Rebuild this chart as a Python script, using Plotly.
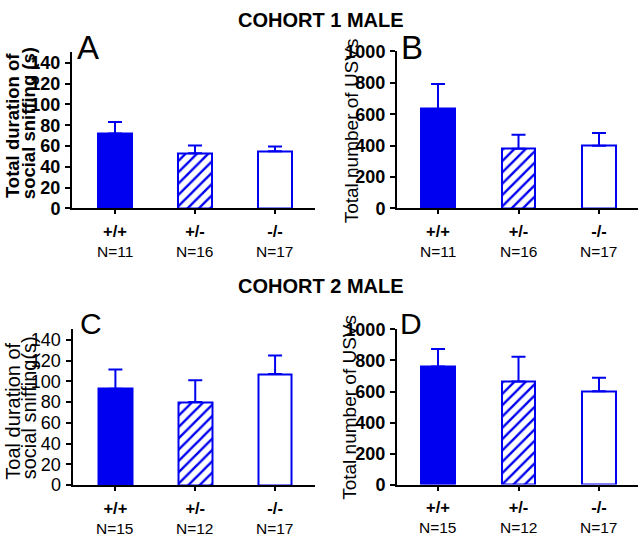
import plotly.graph_objects as go

# ---- data ----
genotypes = ["+/+", "+/-", "-/-"]
n_cohort1 = ["N=11", "N=16", "N=17"]
n_cohort2 = ["N=15", "N=12", "N=17"]

sniff_c1_mean = [72, 53, 55]
sniff_c1_sem = [11, 7.5, 4.5]
usv_c1_mean = [634, 380, 399]
usv_c1_sem = [159, 90, 81]
sniff_c2_mean = [93, 80, 107]
sniff_c2_sem = [18.5, 21, 18]
usv_c2_mean = [762, 665, 602]
usv_c2_sem = [112, 159, 86]

sniff_ticks = [0, 20, 40, 60, 80, 100, 120, 140]
usv_ticks = [0, 200, 400, 600, 800, 1000]

BLUE = "#0000f0"
FONT = "Liberation Sans, Arial, sans-serif"
W, H = 640, 543

fig = go.Figure()

panels = [
    ("", sniff_c1_mean, sniff_c1_sem, n_cohort1, [0, 150], sniff_ticks, (72, 315), (44, 206), True, [-0.5375, 2.5]),
    ("2", usv_c1_mean, usv_c1_sem, n_cohort1, [0, 1000], usv_ticks, (397, 638), (43, 206), True, [-0.509, 2.484]),
    ("3", sniff_c2_mean, sniff_c2_sem, n_cohort2, [0, 150], sniff_ticks, (72.5, 315), (331.7, 493.3), False, [-0.5375, 2.5]),
    ("4", usv_c2_mean, usv_c2_sem, n_cohort2, [0, 1000], usv_ticks, (397, 638), (331.7, 492.7), True, [-0.509, 2.484]),
]

xs = [0, 1, 2]
annotations = []
for suf, means, sems, nlab, yr, yt, xpx, ypx, bold, xr in panels:
    xa = "x" + suf
    ya = "y" + suf
    colors = [BLUE, BLUE, "white"]
    shapes = ["", "/", ""]
    fig.add_trace(go.Bar(
        x=xs, y=means, xaxis=xa, yaxis=ya, width=0.42,
        marker=dict(color=colors, line=dict(color=BLUE, width=2),
                    pattern=dict(shape=shapes, fgcolor=BLUE, bgcolor="white",
                                 fgopacity=1, size=8, solidity=0.3, fillmode="replace")),
        error_y=dict(type="data", array=sems, arrayminus=[0, 0, 0], symmetric=False,
                     color=BLUE, thickness=2, width=7),
        showlegend=False,
    ))
    dom_x = [xpx[0] / W, xpx[1] / W]
    dom_y = [1 - ypx[1] / H, 1 - ypx[0] / H]
    tickfmt = (lambda v: f"<b>{v}</b>") if bold else (lambda v: f"{v}")
    fig.layout["xaxis" + suf] = dict(
        domain=dom_x, range=xr, anchor=ya, showline=True, linecolor="black", linewidth=2,
        ticks="outside", ticklen=4, tickwidth=2, tickcolor="black",
        tickvals=xs, ticktext=[f"<b>{g}</b>" for g in genotypes],
        tickfont=dict(family=FONT, size=16.5, color="black"),
        ticklabelstandoff=3,
        showgrid=False, zeroline=False, fixedrange=True,
    )
    fig.layout["yaxis" + suf] = dict(
        domain=dom_y, range=yr, anchor=xa, showline=True, linecolor="black", linewidth=2,
        ticks="outside", ticklen=5, tickwidth=1.5, tickcolor="black",
        tickvals=yt, ticktext=[tickfmt(v) for v in yt],
        tickfont=dict(family=FONT, size=18, color="black"),
        ticklabelstandoff=1,
        showgrid=False, zeroline=False, fixedrange=True,
    )
    for i, t in enumerate(nlab):
        annotations.append(dict(x=xs[i], y=0, xref=xa, yref=ya, text=t, showarrow=False,
                                yanchor="middle", xanchor="center", yshift=-43,
                                font=dict(family=FONT, size=15.5, color="black")))

def ann(x, y, text, size, angle=0, xanchor="center"):
    return dict(x=x / W, y=1 - y / H, xref="paper", yref="paper", text=text, showarrow=False,
                xanchor=xanchor, yanchor="middle", textangle=angle,
                font=dict(family=FONT, size=size, color="black"))

annotations += [
    ann(321, 10, "<b>COHORT 1 MALE</b>", 20),
    ann(321, 287, "<b>COHORT 2 MALE</b>", 20),
    ann(88, 39, "A", 33),
    ann(412, 39, "B", 33),
    ann(91, 325, "C", 30),
    ann(411, 325, "D", 30),
    # panel A y-title (two lines)
    ann(0, 120, "<b>Total duration of</b>", 18.5, -90, "left"),
    ann(28.5, 118, "<b>social sniffing (s)</b>", 18.5, -90),
    # panel B
    ann(351, 126, "Total number of USVs", 19, -90),
    # panel C y-title (two lines)
    ann(0, 417, "Toal duration of", 20, -90, "left"),
    ann(28.5, 413, "social sniffing(s)", 20, -90),
    # panel D
    ann(350, 413, "Total number of USVs", 19, -90),
]

fig.update_layout(
    width=W, height=H, margin=dict(l=0, r=0, t=0, b=0),
    paper_bgcolor="white", plot_bgcolor="white",
    annotations=annotations, bargap=0,
)

fig.write_html("out.html", config={"displayModeBar": False},
               post_script="document.body.style.margin='0px';")
